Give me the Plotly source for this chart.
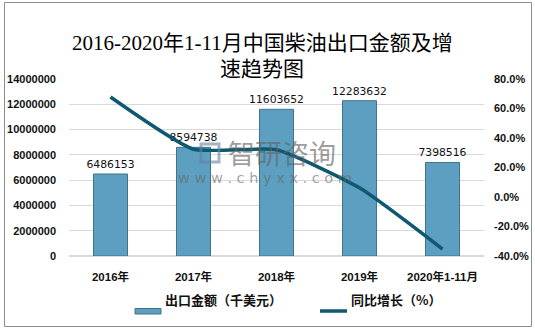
import plotly.graph_objects as go

categories = ["2016年", "2017年", "2018年", "2019年", "2020年1-11月"]
export_value = [6486153, 8594738, 11603652, 12283632, 7398516]
growth_pct = [67.8, 32.4, 32.0, 6.2, -35.3]
left_ticks = [0, 2000000, 4000000, 6000000, 8000000, 10000000, 12000000, 14000000]
right_ticks = [-40, -20, 0, 20, 40, 60, 80]
legend_names = ["出口金额（千美元）", "同比增长（%）"]

W, H = 535, 330
ml, mr, mt, mb = 69, 51, 79, 74
pw, ph = W - ml - mr, H - mt - mb

BAR_COLOR = "#5C9FC0"
LINE_COLOR = "#0E5870"
tick_font = dict(family="Liberation Sans, Noto Sans CJK SC", size=11, color="#111", weight="bold")


def px_x(p):
    return (p - ml) / pw


def px_y(p):
    return 1 - (p - mt) / ph


fig = go.Figure()
fig.add_trace(go.Bar(
    x=categories, y=export_value, name=legend_names[0],
    marker=dict(color=BAR_COLOR, line=dict(color="#41728A", width=1)),
    width=0.41,
    text=[str(v) for v in export_value], textposition="outside",
    textfont=dict(family="DejaVu Sans, Noto Sans CJK SC", size=10.8, color="#111"),
    constraintext="none", cliponaxis=False, showlegend=False,
))
fig.add_trace(go.Scatter(
    x=categories, y=growth_pct, name=legend_names[1], yaxis="y2",
    mode="lines", line=dict(color=LINE_COLOR, width=3.5, shape="spline", smoothing=0.5),
    showlegend=False,
))

fig.update_layout(
    width=W, height=H,
    margin=dict(l=ml, r=mr, t=mt, b=mb, autoexpand=False),
    paper_bgcolor="white", plot_bgcolor="white",
    xaxis=dict(tickfont=dict(tick_font, size=11.5), showgrid=False, showline=False, ticks="",
               automargin=False, ticklabelstandoff=12),
    yaxis=dict(range=[0, 14000000], tickvals=left_ticks, ticktext=[str(v) for v in left_ticks],
               tickfont=tick_font, showgrid=True, gridcolor="#D9D9D9", gridwidth=1,
               zeroline=True, zerolinecolor="#D9D9D9", showline=False, ticklabelstandoff=12,
               automargin=False),
    yaxis2=dict(range=[-40, 80], tickvals=right_ticks, ticktext=[f"{v:.1f}%" for v in right_ticks],
                overlaying="y", side="right", tickfont=tick_font, showgrid=False,
                zeroline=False, showline=False, ticklabelstandoff=9, automargin=False),
    bargap=0.5,
    showlegend=False,
)

# title (two lines)
title_font = dict(family="Liberation Serif, Noto Sans CJK SC", size=21, color="#000")
fig.add_annotation(text="2016-2020年1-11月中国柴油出口金额及增", xref="paper", yref="paper",
                   x=px_x(262), y=px_y(29), showarrow=False, font=title_font)
fig.add_annotation(text="速趋势图", xref="paper", yref="paper",
                   x=px_x(262), y=px_y(55), showarrow=False, font=title_font)

# legend (custom)
leg_font = dict(family="Noto Sans CJK SC", size=13, color="#111", weight="bold")
fig.add_shape(type="rect", xref="paper", yref="paper", x0=px_x(135), x1=px_x(161),
              y0=px_y(308.5), y1=px_y(314), fillcolor=BAR_COLOR, line=dict(color="#41728A", width=1))
fig.add_annotation(text=legend_names[0], xref="paper", yref="paper", x=px_x(163), y=px_y(311),
                   xanchor="left", showarrow=False, font=leg_font)
fig.add_shape(type="line", xref="paper", yref="paper", x0=px_x(320), x1=px_x(347),
              y0=px_y(311), y1=px_y(311), line=dict(color=LINE_COLOR, width=3.5))
fig.add_annotation(text=legend_names[1], xref="paper", yref="paper", x=px_x(349), y=px_y(311),
                   xanchor="left", showarrow=False, font=leg_font)

# watermark
fig.add_annotation(text="智研咨询", xref="paper", yref="paper", x=px_x(282), y=px_y(152),
                   showarrow=False, font=dict(family="Noto Sans CJK SC", size=27, color="rgba(100,100,100,0.65)"))
fig.add_annotation(text="w w w . c h y x x . c o m", xref="paper", yref="paper", x=px_x(265), y=px_y(178),
                   showarrow=False, font=dict(family="DejaVu Sans", size=14.5, color="rgba(100,100,100,0.6)"))
fig.add_shape(type="rect", xref="paper", yref="paper", x0=px_x(201), x1=px_x(219), y0=px_y(144), y1=px_y(162),
              line=dict(color="rgba(100,130,160,0.6)", width=3), fillcolor="rgba(0,0,0,0)")

# outer border
fig.add_shape(type="rect", xref="paper", yref="paper", x0=px_x(4.5), x1=px_x(531.5), y0=px_y(2.5), y1=px_y(326.5),
              line=dict(color="#8C8C8C", width=1), layer="above")

fig.write_html("out.html")
